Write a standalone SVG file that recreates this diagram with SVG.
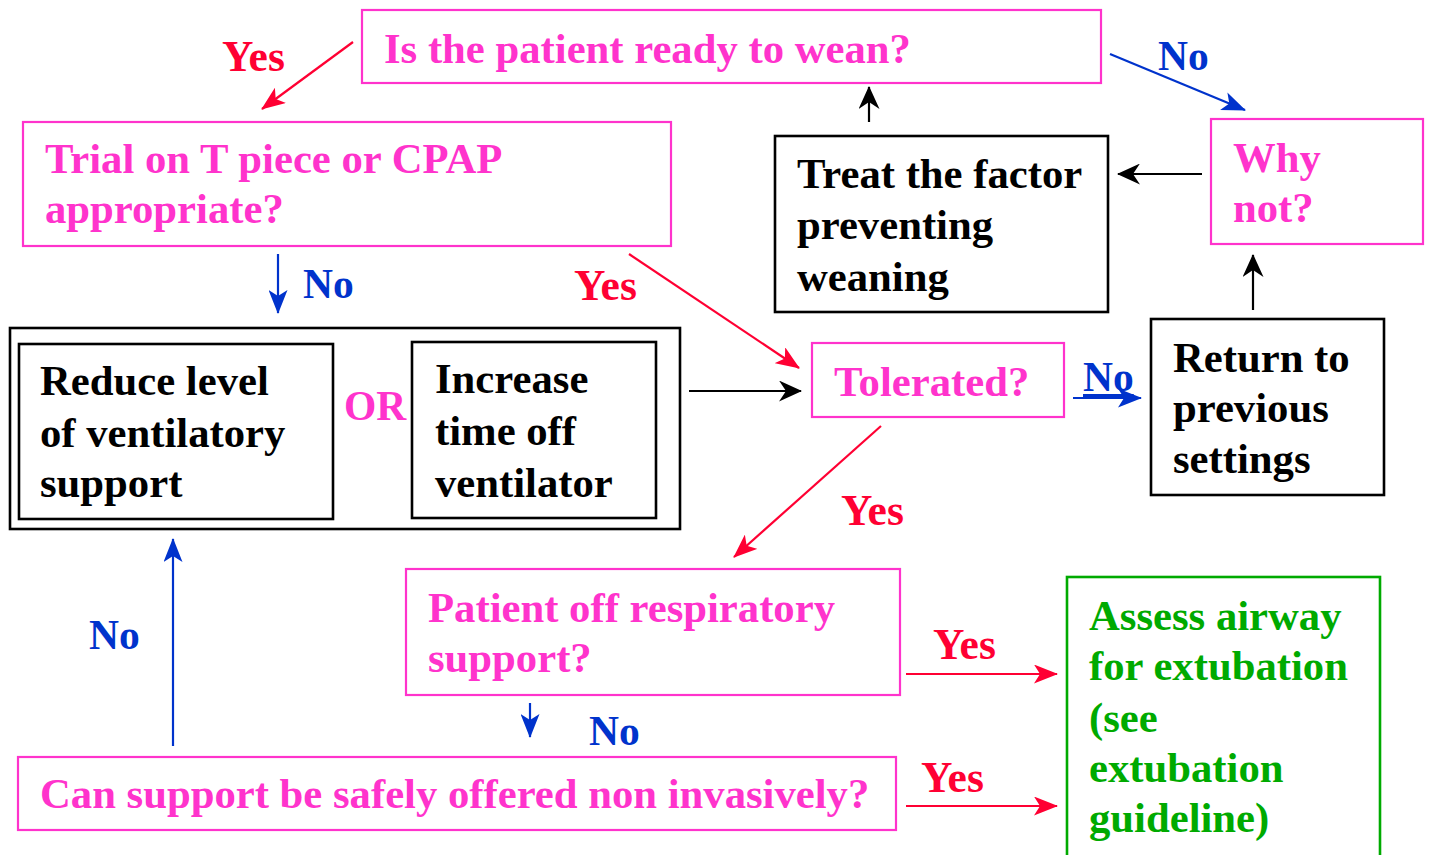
<svg xmlns="http://www.w3.org/2000/svg" width="1429" height="855" viewBox="0 0 1429 855">
<style>
text{font-family:"Liberation Serif","Times New Roman",serif;font-weight:bold;font-size:42.7px}
.pk{fill:#FF33CC}
.bk{fill:#000}
.rd{fill:#FF0033;font-size:43.5px}
.bl{fill:#0033CC;font-size:41.5px}
.gr{fill:#00AA00}
.bp{fill:#fff;stroke:#FF33CC;stroke-width:2.2}
.bb{fill:#fff;stroke:#000;stroke-width:2.6}
.bg{fill:#fff;stroke:#00AA00;stroke-width:2.6}
.cr{stroke:#FF0033;stroke-width:2.2;fill:none;marker-end:url(#mr)}
.cb{stroke:#0033CC;stroke-width:2.2;fill:none;marker-end:url(#mb)}
.ck{stroke:#000;stroke-width:2.2;fill:none;marker-end:url(#mk)}
</style>
<defs>
<marker id="mr" viewBox="0 0 24 19" refX="23" refY="9.5" markerWidth="24" markerHeight="19" markerUnits="userSpaceOnUse" orient="auto"><path d="M0,0 L24,9.5 L0,19 L6,9.5 z" fill="#FF0033"/></marker>
<marker id="mb" viewBox="0 0 24 19" refX="23" refY="9.5" markerWidth="24" markerHeight="19" markerUnits="userSpaceOnUse" orient="auto"><path d="M0,0 L24,9.5 L0,19 L6,9.5 z" fill="#0033CC"/></marker>
<marker id="mk" viewBox="0 0 23 21" refX="22" refY="10.5" markerWidth="23" markerHeight="21" markerUnits="userSpaceOnUse" orient="auto"><path d="M0,0 L23,10.5 L0,21 L7,10.5 z" fill="#000"/></marker>
</defs>
<rect width="1429" height="855" fill="#fff"/>

<g id="connectors">
<line class="cr" x1="353" y1="42" x2="262" y2="109"/>
<line class="cb" x1="1110" y1="54" x2="1245" y2="110"/>
<line class="ck" x1="869" y1="122" x2="869" y2="87"/>
<line class="ck" x1="1202" y1="174" x2="1118" y2="174"/>
<line class="ck" x1="1253" y1="310" x2="1253" y2="255"/>
<line class="cb" x1="278" y1="254" x2="278" y2="313"/>
<line class="cr" x1="629" y1="254" x2="799" y2="368"/>
<line class="ck" x1="689" y1="391" x2="801" y2="391"/>
<line class="cb" x1="1073" y1="398" x2="1141" y2="398"/>
<line class="cr" x1="881" y1="426" x2="734" y2="557"/>
<line class="cr" x1="906" y1="674" x2="1057" y2="674"/>
<line class="cb" x1="530" y1="703" x2="530" y2="737"/>
<line class="cr" x1="906" y1="806" x2="1057" y2="806"/>
<line class="cb" x1="173" y1="746" x2="173" y2="539"/>
<text class="rd" x="222" y="71">Yes</text>
<text class="bl" x="1158" y="70">No</text>
<text class="bl" x="303" y="298">No</text>
<text class="rd" x="574" y="300">Yes</text>
<text class="bl" x="1083" y="391" text-decoration="underline">No</text>
<text class="rd" x="841" y="525">Yes</text>
<text class="rd" x="933" y="659">Yes</text>
<text class="bl" x="589" y="745">No</text>
<text class="rd" x="921" y="792">Yes</text>
<text class="bl" x="89" y="649">No</text>
</g>

<g id="ready">
<rect class="bp" x="362" y="10" width="739" height="73"/>
<text class="pk" x="384" y="63">Is the patient ready to wean?</text>
</g>

<g id="trial">
<rect class="bp" x="23" y="122" width="648" height="124"/>
<text class="pk" x="45" y="173">Trial on T piece or CPAP</text>
<text class="pk" x="45" y="223">appropriate?</text>
</g>

<g id="treat">
<rect class="bb" x="775" y="136" width="333" height="176"/>
<text class="bk" x="797" y="188">Treat the factor</text>
<text class="bk" x="797" y="239">preventing</text>
<text class="bk" x="797" y="291">weaning</text>
</g>

<g id="whynot">
<rect class="bp" x="1211" y="119" width="212" height="125"/>
<text class="pk" x="1233" y="172">Why</text>
<text class="pk" x="1233" y="222">not?</text>
</g>

<g id="reduce-group">
<rect class="bb" x="10" y="328" width="670" height="201"/>
<g id="reduce">
<rect class="bb" x="19" y="344" width="314" height="175"/>
<text class="bk" x="40" y="395">Reduce level</text>
<text class="bk" x="40" y="447">of ventilatory</text>
<text class="bk" x="40" y="497">support</text>
</g>
<text class="pk" x="344" y="420" style="font-size:41.5px">OR</text>
<g id="increase">
<rect class="bb" x="412" y="342" width="244" height="176"/>
<text class="bk" x="435" y="393">Increase</text>
<text class="bk" x="435" y="445">time off</text>
<text class="bk" x="435" y="497">ventilator</text>
</g>
</g>

<g id="tolerated">
<rect class="bp" x="812" y="343" width="252" height="74"/>
<text class="pk" x="834" y="396">Tolerated?</text>
</g>

<g id="return">
<rect class="bb" x="1151" y="319" width="233" height="176"/>
<text class="bk" x="1173" y="372">Return to</text>
<text class="bk" x="1173" y="422">previous</text>
<text class="bk" x="1173" y="473">settings</text>
</g>

<g id="offsupport">
<rect class="bp" x="406" y="569" width="494" height="126"/>
<text class="pk" x="428" y="622">Patient off respiratory</text>
<text class="pk" x="428" y="672">support?</text>
</g>

<g id="assess">
<rect class="bg" x="1067" y="577" width="313" height="290"/>
<text class="gr" x="1089" y="630">Assess airway</text>
<text class="gr" x="1089" y="680">for extubation</text>
<text class="gr" x="1089" y="732">(see</text>
<text class="gr" x="1089" y="782">extubation</text>
<text class="gr" x="1089" y="832">guideline)</text>
</g>

<g id="noninvasive">
<rect class="bp" x="18" y="757" width="878" height="73"/>
<text class="pk" x="40" y="808">Can support be safely offered non invasively?</text>
</g>
</svg>
